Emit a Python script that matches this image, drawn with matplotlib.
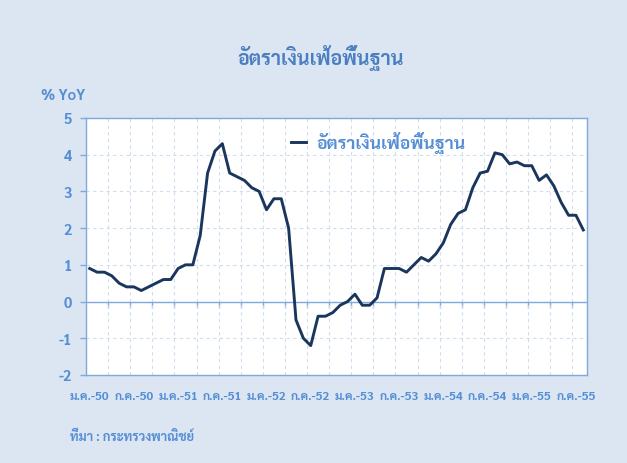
import matplotlib
matplotlib.use("Agg")
import matplotlib.pyplot as plt
import numpy as np

# ---- data ----
years = ["50", "51", "52", "53", "54", "55"]
month_abbr = ["ม.ค.", "ก.ค."]
core_inflation = [
    0.9, 0.8, 0.8, 0.7, 0.5, 0.4, 0.4, 0.3, 0.4, 0.5, 0.6, 0.6,      # 2550
    0.9, 1.0, 1.0, 1.8, 3.5, 4.1, 4.3, 3.5, 3.4, 3.3, 3.1, 3.0,      # 2551
    2.5, 2.8, 2.8, 2.0, -0.5, -1.0, -1.2, -0.4, -0.4, -0.3, -0.1, 0.0,  # 2552
    0.2, -0.1, -0.1, 0.1, 0.9, 0.9, 0.9, 0.8, 1.0, 1.2, 1.1, 1.3,    # 2553
    1.6, 2.1, 2.4, 2.5, 3.1, 3.5, 3.55, 4.05, 4.0, 3.75, 3.8, 3.7,   # 2554
    3.7, 3.3, 3.45, 3.15, 2.7, 2.35, 2.35, 1.95,                     # 2555
]
tick_labels = [f"{m}-{y}" for y in years for m in month_abbr]
series_name = "อัตราเงินเฟ้อพื้นฐาน"
title = "อัตราเงินเฟ้อพื้นฐาน"
y_unit = "% YoY"
source = "ที่มา : กระทรวงพาณิชย์"

THAI = ["Sarabun", "DejaVu Sans"]
plt.rcParams['font.family'] = THAI
plt.rcParams['axes.unicode_minus'] = False

bg = "#DCE6F2"
txt = "#558ED5"
title_col = "#4A7EC0"
spine_col = "#7FA8DC"
grid_col = "#D0DDEE"
line_col = "#1B365D"

n = len(core_inflation)
x = np.arange(n)

fig = plt.figure(figsize=(6.27, 4.64), dpi=100, facecolor=bg)
ax = fig.add_axes([0.1372, 0.1897, 0.7990, 0.5539])
ax.set_facecolor("white")

ax.plot(x, core_inflation, color=line_col, lw=2.1, solid_joinstyle='round',
        label=series_name, zorder=3)

ax.set_xlim(-0.5, n - 0.5)
ax.set_ylim(-2, 5)

# y axis
ax.set_yticks(range(-2, 6))
ax.tick_params(axis='y', direction='out', length=4, color=spine_col, width=1,
               labelcolor=txt, labelsize=10.5, pad=6)
for lab in ax.get_yticklabels():
    lab.set_fontweight('bold')

# x axis: labels every 6 months, grid every 3 months at category boundaries
ax.set_xticks(x[::6])
ax.set_xticklabels(tick_labels[:len(x[::6])], fontweight='bold', color=txt, fontsize=8.6)
ax.tick_params(axis='x', which='major', length=0, pad=11)
bounds = np.arange(-0.5, n - 0.5, 3)[1:]
ax.set_xticks(bounds, minor=True)
ax.tick_params(axis='x', which='minor', length=0)

ax.grid(True, which='minor', axis='x', color=grid_col, ls=(0, (3, 3)), lw=0.8, zorder=0)
ax.grid(True, which='major', axis='y', color=grid_col, ls=(0, (3, 3)), lw=0.8, zorder=0)

for s in ax.spines.values():
    s.set_color(spine_col)
    s.set_linewidth(1.0)

# horizontal axis line at zero with tick marks
ax.axhline(0, color=spine_col, lw=1.0, zorder=2)
sec = ax.secondary_xaxis((0 - (-2)) / 7)
sec.spines['bottom'].set_visible(False)
sec.set_xticks(bounds)
sec.set_xticklabels([])
sec.tick_params(axis='x', direction='out', length=4, color=spine_col, width=1)

leg = ax.legend(loc='upper left', bbox_to_anchor=(0.378, 1.01), frameon=False,
                handlelength=0.85, handletextpad=0.6,
                prop={'weight': 'bold', 'size': 12.7, 'family': THAI})
for t in leg.get_texts():
    t.set_color(txt)

fig.text(0.512, 0.875, title, ha='center', va='center', fontsize=14.2,
         fontweight='bold', color=title_col)
fig.text(0.066, 0.793, y_unit, ha='left', va='center', fontsize=10.5,
         fontweight='bold', color=txt)
fig.text(0.111, 0.058, source, ha='left', va='center', fontsize=9.2,
         fontweight='bold', color=txt)

fig.savefig("out.png", dpi=100, facecolor=bg)
